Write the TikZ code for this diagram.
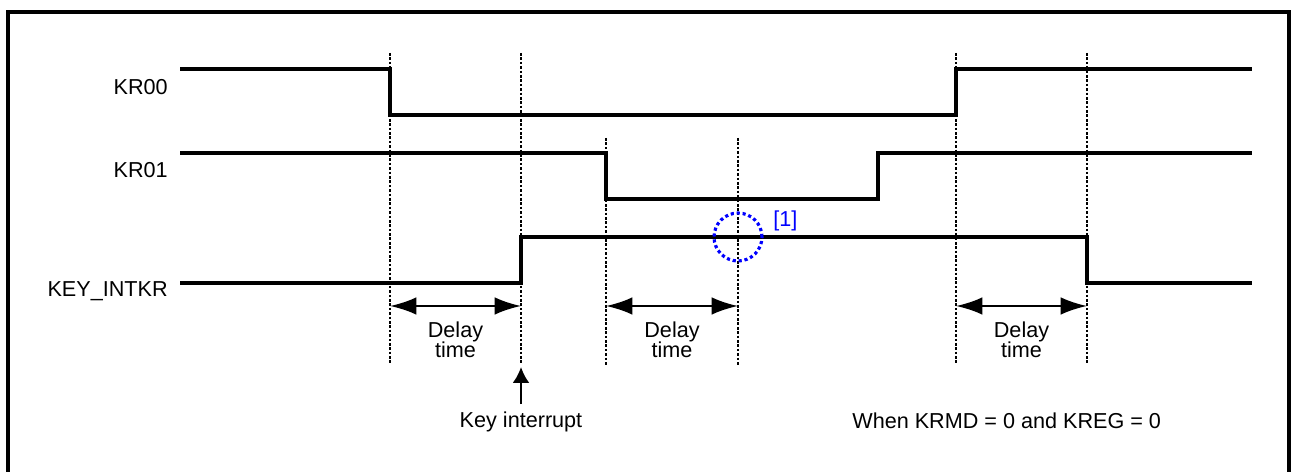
\documentclass[tikz,border=0pt]{standalone}
\usepackage{fontspec}
\setmainfont{Liberation Sans}
\usetikzlibrary{arrows.meta,positioning,calc}

\begin{document}
\begin{tikzpicture}[
  x=0.02cm, y=-0.02cm,
  every node/.style={font=\fontsize{12.3}{11.5}\selectfont, inner sep=0pt},
  sig/.style={line width=2.1pt, line join=miter},
  guide/.style={line width=1.4pt, dash pattern=on 1.5pt off 1pt},
  span/.style={line width=1.3pt,
               {Latex[length=15pt,width=10pt]}-{Latex[length=15pt,width=10pt]}},
  hit/.style={draw=blue, line width=1.8pt, dash pattern=on 1.8pt off 1.6pt},
  >=Latex
]
\useasboundingbox (0,0) rectangle (1291,472);

%% ---- Frame ----------------------------------------------------------
\draw[line width=2pt] (8,12) rectangle (1289,490);

%% ---- Signal names ---------------------------------------------------
\node[anchor=base east] (kr00)  at (168,95)  {KR00};
\node[anchor=base east] (kr01)  at (168,178) {KR01};
\node[anchor=base east] (keyi)  at (168,297) {KEY\_INTKR};

%% ---- Waveforms ------------------------------------------------------
\draw[sig] (180,69)  -- (390,69)  -- (390,115) -- (956,115)
           -- (956,69)  -- (1252,69);
\draw[sig] (180,153) -- (606,153) -- (606,199) -- (878,199)
           -- (878,153) -- (1252,153);
\draw[sig] (180,283) -- (521,283) -- (521,237) -- (1087,237)
           -- (1087,283) -- (1252,283);

%% ---- Timing guides --------------------------------------------------
\foreach \x in {390,521,956,1087}
  \draw[guide] (\x,53) -- (\x,364);
\foreach \x in {606,738}
  \draw[guide] (\x,138) -- (\x,366);

%% ---- Delay spans ----------------------------------------------------
\foreach \a/\b [count=\i] in {390/521,606/738,956/1087} {
  \coordinate (dl\i) at (\a,306);
  \coordinate (dr\i) at (\b,306);
  \draw[span] (dl\i) -- (dr\i);
  \node[align=center] (dly\i) at ({(\a+\b)/2},340) {Delay\\time};
}

%% ---- Key interrupt --------------------------------------------------
\coordinate (irq) at (521,367);
\node[anchor=base] (keyint) at (521,428) {Key interrupt};
\draw[line width=1.3pt, -{Latex[length=9pt,width=9.5pt]}]
     ([yshift=4.5pt]keyint.north) -- (irq);

%% ---- Marker [1] -----------------------------------------------------
\draw[hit] (738,237) circle[radius=0.48cm];
\node[anchor=base west, text=blue] (ref1) at (773,227) {[1]};

%% ---- Condition note -------------------------------------------------
\node[anchor=base west] (cond) at (852,429) {When KRMD = 0 and KREG = 0};

\end{tikzpicture}
\end{document}
